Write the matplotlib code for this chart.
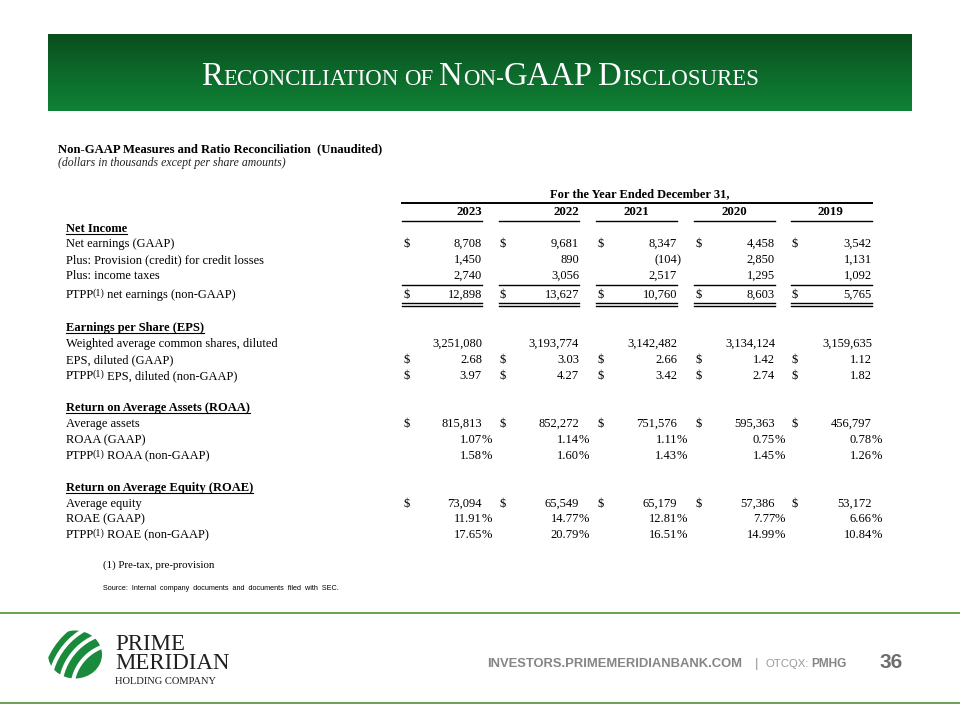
import matplotlib.pyplot as plt
import numpy as np
from matplotlib.colors import LinearSegmentedColormap
from matplotlib.patches import Ellipse, Wedge

# table data (dollars in thousands except per share amounts)
years = ['2023', '2022', '2021', '2020', '2019']
net_earnings = [8708, 9681, 8347, 4458, 3542]
provision = [1450, 890, -104, 2850, 1131]
income_taxes = [2740, 3056, 2517, 1295, 1092]
ptpp_net_earnings = [12898, 13627, 10760, 8603, 5765]
diluted_shares = [3251080, 3193774, 3142482, 3134124, 3159635]
eps_gaap = [2.68, 3.03, 2.66, 1.42, 1.12]
eps_ptpp = [3.97, 4.27, 3.42, 2.74, 1.82]
avg_assets = [815813, 852272, 751576, 595363, 456797]
roaa_gaap = [1.07, 1.14, 1.11, 0.75, 0.78]
roaa_ptpp = [1.58, 1.60, 1.43, 1.45, 1.26]
avg_equity = [73094, 65549, 65179, 57386, 53172]
roae_gaap = [11.91, 14.77, 12.81, 7.77, 6.66]
roae_ptpp = [17.65, 20.79, 16.51, 14.99, 10.84]

SERIF = 'Liberation Serif'
SANS = 'Liberation Sans'
FS = 9.0

fig = plt.figure(figsize=(9.6, 7.2), dpi=100)
ax = fig.add_axes([0, 0, 1, 1])
renderer = fig.canvas.get_renderer()


def wid(t):
    return t.get_window_extent(renderer).width


def runs(x, y, parts, **kw):
    # parts: (text, size, weight, style, dy, kern)
    for txt, size, weight, style, dy, kern in parts:
        t = ax.text(x, y + dy, txt, fontsize=size, fontweight=weight, fontstyle=style,
                    va='baseline', ha='left', **kw)
        x += wid(t) + kern
    return x


# banner with vertical gradient
cmap = LinearSegmentedColormap.from_list('g', ['#0a4d1d', '#0c6a2b', '#0f8135'])
ax.imshow(np.linspace(0, 1, 200).reshape(-1, 1), extent=[48, 912, 111, 34],
          cmap=cmap, aspect='auto', origin='upper')

big, small = 23.5, 16.5
title_parts = [('R', big), ('ECONCILIATION', small), (' ', small), ('OF', small), (' ', small),
               ('N', big), ('ON-', small), ('GAAP', big), (' ', small), ('D', big), ('ISCLOSURES', small)]
tmp = [ax.text(0, 0, s, fontsize=sz, family=SERIF) for s, sz in title_parts]
total = sum(wid(t) for t in tmp)
for t in tmp:
    t.remove()
runs(480 - total / 2, 85, [(s, sz, 'normal', 'normal', 0, 0) for s, sz in title_parts],
     family=SERIF, color='white')

# subtitle
ax.text(58, 152, 'Non-GAAP Measures and Ratio Reconciliation  (Unaudited)', family=SERIF,
        fontsize=9.1, fontweight='bold', va='baseline')
ax.text(58, 166, '(dollars in thousands except per share amounts)', family=SERIF,
        fontsize=8.5, fontstyle='italic', va='baseline', color='#222222')

# column geometry
col_left = [402, 499, 596, 694, 791]
col_right = [482, 579, 677, 775, 872]
year_right = [482, 579, 649, 747, 843]
label_x = 66
lw_line = 1.0

ax.text(640, 197, 'For the Year Ended December 31,', family=SERIF, fontsize=FS,
        fontweight='bold', ha='center', va='baseline')
ax.plot([402, 872], [203, 203], color='black', lw=1.4)
for i, yr in enumerate(years):
    ax.text(year_right[i], 215, yr, family=SERIF, fontsize=FS + 0.3, fontweight='bold',
            ha='right', va='baseline')
    ax.plot([col_left[i], col_right[i]], [220.5, 220.5], color='black', lw=lw_line)


def header(y, text):
    t = ax.text(label_x, y, text, family=SERIF, fontsize=FS, fontweight='bold', va='baseline')
    w = wid(t)
    ax.plot([label_x, label_x + w], [y + 2, y + 2], color='black', lw=0.8)


def label(y, text, ptpp=False):
    if ptpp:
        runs(label_x, y, [('PTPP', FS, 'normal', 'normal', 0, -1.5),
                          ('(1)', FS * 0.8, 'normal', 'normal', -2.5, -1),
                          (' ' + text, FS, 'normal', 'normal', 0, 0)], family=SERIF)
    else:
        ax.text(label_x, y, text, family=SERIF, fontsize=FS, va='baseline')


def values(y, vals, kind='int', dollar=False):
    for i, v in enumerate(vals):
        r = col_right[i]
        if dollar:
            ax.text(col_left[i] + 1, y, '$', family=SERIF, fontsize=FS, va='baseline')
        if kind == 'int':
            if v < 0:
                ax.text(r, y, '({:,}'.format(-v), family=SERIF, fontsize=FS, ha='right', va='baseline')
                ax.text(r, y, ')', family=SERIF, fontsize=FS, ha='left', va='baseline')
            else:
                ax.text(r, y, '{:,}'.format(v), family=SERIF, fontsize=FS, ha='right', va='baseline')
        elif kind == 'dec':
            ax.text(r, y, '{:.2f}'.format(v), family=SERIF, fontsize=FS, ha='right', va='baseline')
        else:
            ax.text(r, y, '{:.2f}'.format(v), family=SERIF, fontsize=FS, ha='right', va='baseline')
            ax.text(r, y, '%', family=SERIF, fontsize=FS, ha='left', va='baseline')


# Net income block
header(232, 'Net Income')
label(247, 'Net earnings (GAAP)')
values(247, net_earnings, dollar=True)
label(263, 'Plus: Provision (credit) for credit losses')
values(263, provision)
label(279, 'Plus: income taxes')
values(279, income_taxes)
label(298, 'net earnings (non-GAAP)', ptpp=True)
values(298, ptpp_net_earnings, dollar=True)
for i in range(5):
    ax.plot([col_left[i], col_right[i]], [284.5, 284.5], color='black', lw=lw_line)
    ax.plot([col_left[i], col_right[i]], [302.5, 302.5], color='black', lw=lw_line)
    ax.plot([col_left[i], col_right[i]], [305.5, 305.5], color='black', lw=lw_line)

# EPS block
header(331, 'Earnings per Share (EPS)')
label(347, 'Weighted average common shares, diluted')
values(347, diluted_shares)
label(363, 'EPS, diluted (GAAP)')
values(363, eps_gaap, kind='dec', dollar=True)
label(379, 'EPS, diluted (non-GAAP)', ptpp=True)
values(379, eps_ptpp, kind='dec', dollar=True)

# ROAA block
header(411, 'Return on Average Assets (ROAA)')
label(427, 'Average assets')
values(427, avg_assets, dollar=True)
label(443, 'ROAA (GAAP)')
values(443, roaa_gaap, kind='pct')
label(459, 'ROAA (non-GAAP)', ptpp=True)
values(459, roaa_ptpp, kind='pct')

# ROAE block
header(491, 'Return on Average Equity (ROAE)')
label(507, 'Average equity')
values(507, avg_equity, dollar=True)
label(522, 'ROAE (GAAP)')
values(522, roae_gaap, kind='pct')
label(538, 'ROAE (non-GAAP)', ptpp=True)
values(538, roae_ptpp, kind='pct')

# footnotes
ax.text(103, 568, '(1) Pre-tax, pre-provision', family=SERIF, fontsize=7.8, va='baseline')
ax.text(103, 590, 'Source:  Internal  company  documents  and  documents  filed  with  SEC.',
        family=SANS, fontsize=5.2, va='baseline')

# footer rules
ax.plot([0, 960], [613, 613], color='#5b9a43', lw=1.3)
ax.plot([0, 960], [703, 703], color='#5b9a43', lw=1.3)

# logo: striped globe, bands concentric around a point below-right
clip = Ellipse((75, 654.5), 54, 48, transform=ax.transData, facecolor='none', edgecolor='none')
ax.add_patch(clip)
hub = (118, 690)
for r_in, r_out in [(20, 44), (48, 56), (60, 67), (71, 77)]:
    band = Wedge(hub, r_out, 0, 360, width=r_out - r_in, facecolor='#1a8a3c', edgecolor='none')
    ax.add_patch(band)
    band.set_clip_path(clip)

ax.text(115, 650, 'PRIME', family=SERIF, fontsize=16.5, va='baseline', color='#1f1f1f')
ax.text(115, 669, 'MERIDIAN', family=SERIF, fontsize=16.5, va='baseline', color='#1f1f1f')
ax.text(115, 684, 'HOLDING COMPANY', family=SERIF, fontsize=7.6, va='baseline', color='#1f1f1f')

# footer right text
ax.text(487, 667, 'INVESTORS.PRIMEMERIDIANBANK.COM', family=SANS, fontsize=9.4,
        fontweight='bold', color='#858585', va='baseline')
ax.text(755, 667, '|', family=SANS, fontsize=9.5, color='#9a9a9a', va='baseline')
ax.text(765, 667, 'OTCQX:', family=SANS, fontsize=8.2, color='#9a9a9a', va='baseline')
ax.text(811, 667, 'PMHG', family=SANS, fontsize=8.6, fontweight='bold', color='#858585', va='baseline')
ax.text(880, 668, '36', family=SANS, fontsize=15, fontweight='bold', color='#6e6e6e', va='baseline')

ax.set_xlim(0, 960)
ax.set_ylim(720, 0)
ax.axis('off')
fig.savefig('out.png', dpi=100)
